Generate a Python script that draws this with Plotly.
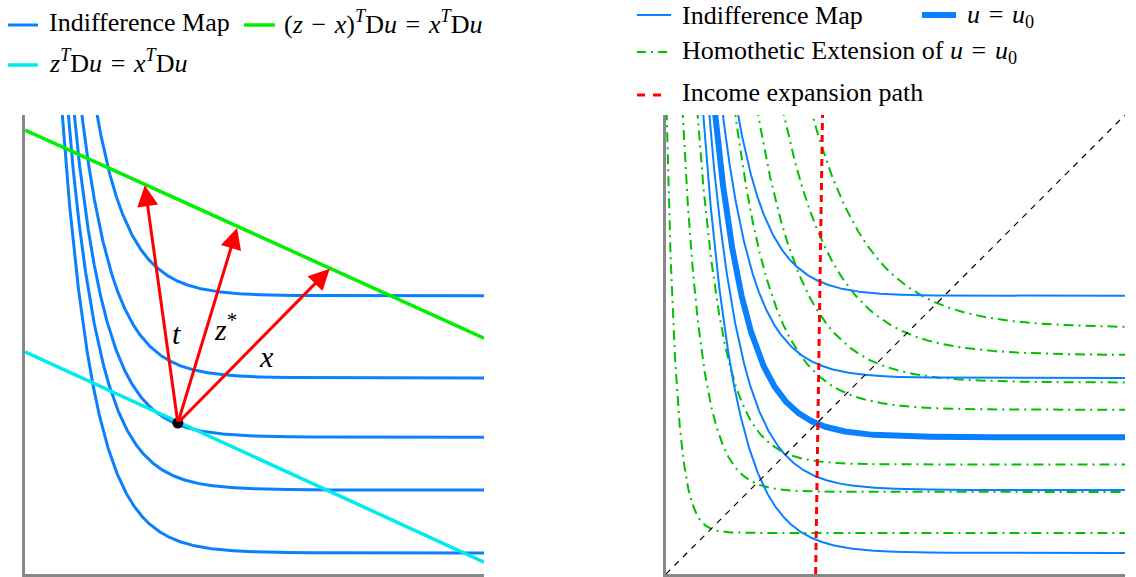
import numpy as np
import plotly.graph_objects as go

# ---------------- data ----------------
# indifference curves: y = level + (10 - level) * exp(-(x - top_x) / decay)
indiff_levels = [6.06, 4.27, 2.98, 1.83, 0.46]     # horizontal asymptotes
indiff_top_x = [1.57, 1.24, 1.07, 0.94, 0.81]      # x where each curve meets y = 10
decay = 0.7
u0_index = 2                                        # the curve u = u0

homothetic_scales = [0.3, 0.6, 0.8, 1.2, 1.4, 1.6, 1.8]

budget_x = [0.0, 10.0]
budget_y = [9.67, 5.14]          # (z - x)^T Du = x^T Du
tangent_x = [0.0, 10.0]
tangent_y = [4.84, 0.26]         # z^T Du = x^T Du

point_xy = (3.33, 3.29)
arrow_names = ["t", "z*", "x"]
arrow_tips_x = [2.61, 4.62, 6.64]
arrow_tips_y = [8.47, 7.54, 6.65]
label_x = [3.31, 4.36, 5.27]
label_y = [5.25, 5.38, 4.73]

expansion_x = [3.26, 3.41]
expansion_y = [0.0, 10.0]
diag_x = [0.0, 10.0]
diag_y = [0.0, 10.0]

BLUE = "#0a80ff"
GREEN_BRIGHT = "#00f000"
GREEN_DD = "#00c000"
CYAN = "#00ecec"
RED = "#ff0000"
FONT = "Liberation Serif"
W, H = 1136, 577
SP = "\u2004"   # math spacing around binary operators


def curve(level, top_x, scale=1.0):
    k = (10 - level) * np.exp(top_x / decay)
    xs = np.linspace(0.0005, 10, 4000)
    ys = scale * (level + k * np.exp(-(xs / scale) / decay))
    m = ys < 14
    return xs[m], ys[m]


fig = go.Figure()

# ---------------- left panel ----------------
for lev, tx in zip(indiff_levels, indiff_top_x):
    cx, cy = curve(lev, tx)
    fig.add_trace(go.Scatter(x=cx, y=cy, mode="lines", line=dict(color=BLUE, width=3),
                             showlegend=False, xaxis="x", yaxis="y", hoverinfo="skip"))
fig.add_trace(go.Scatter(x=budget_x, y=budget_y, mode="lines", line=dict(color=GREEN_BRIGHT, width=3.5),
                         showlegend=False, xaxis="x", yaxis="y"))
fig.add_trace(go.Scatter(x=tangent_x, y=tangent_y, mode="lines", line=dict(color=CYAN, width=3.5),
                         showlegend=False, xaxis="x", yaxis="y"))

annotations = []
for tx_, ty_ in zip(arrow_tips_x, arrow_tips_y):
    annotations.append(dict(x=tx_, y=ty_, ax=point_xy[0], ay=point_xy[1], xref="x", yref="y",
                            axref="x", ayref="y", text="", showarrow=True, arrowhead=2,
                            arrowsize=1.4, arrowwidth=3, arrowcolor=RED, standoff=0, startstandoff=0))
fig.add_trace(go.Scatter(x=[point_xy[0]], y=[point_xy[1]], mode="markers",
                         marker=dict(color="black", size=11), showlegend=False, xaxis="x", yaxis="y",
                         cliponaxis=False))
label_text = {"t": "<i>t</i>", "z*": "<i>z</i><sup>*</sup>", "x": "<i>x</i>"}
for nm, lx, ly in zip(arrow_names, label_x, label_y):
    annotations.append(dict(x=lx, y=ly, xref="x", yref="y", text=label_text[nm], showarrow=False,
                            font=dict(family=FONT, size=30, color="black")))

# ---------------- right panel ----------------
for s in homothetic_scales:
    cx, cy = curve(indiff_levels[u0_index], indiff_top_x[u0_index], s)
    fig.add_trace(go.Scatter(x=cx, y=cy, mode="lines",
                             line=dict(color=GREEN_DD, width=2, dash="10px,5px,2px,5px"),
                             showlegend=False, xaxis="x2", yaxis="y2", hoverinfo="skip"))
for i, (lev, tx) in enumerate(zip(indiff_levels, indiff_top_x)):
    cx, cy = curve(lev, tx)
    fig.add_trace(go.Scatter(x=cx, y=cy, mode="lines",
                             line=dict(color=BLUE, width=6 if i == u0_index else 2),
                             showlegend=False, xaxis="x2", yaxis="y2", hoverinfo="skip"))
fig.add_trace(go.Scatter(x=expansion_x, y=expansion_y, mode="lines",
                         line=dict(color=RED, width=3, dash="7px,5px"),
                         showlegend=False, xaxis="x2", yaxis="y2"))
fig.add_trace(go.Scatter(x=diag_x, y=diag_y, mode="lines",
                         line=dict(color="black", width=1.2, dash="6px,6px"),
                         showlegend=False, xaxis="x2", yaxis="y2"))

# ---------------- manual legends ----------------
shapes = []


def leg_line(x0, x1, y, color, width, dash="solid"):
    shapes.append(dict(type="line", xref="paper", yref="paper", x0=x0 / W, x1=x1 / W,
                       y0=1 - y / H, y1=1 - y / H, line=dict(color=color, width=width, dash=dash)))


def leg_text(x, y, txt):
    annotations.append(dict(x=x / W, y=1 - y / H, xref="paper", yref="paper", text=txt,
                            showarrow=False, xanchor="left", yanchor="middle",
                            font=dict(family=FONT, size=26, color="black")))


EQ = SP + "=" + SP
MINUS = SP + "−" + SP
leg_line(8, 38, 25, BLUE, 3)
leg_text(47, 22, "Indifference Map")
leg_line(244, 275, 25, GREEN_BRIGHT, 3.5)
leg_text(282, 22, "(<i>z</i>" + MINUS + "<i>x</i>)<sup><i>T</i></sup>D<i>u</i>" + EQ
         + "<i>x</i><sup><i>T</i></sup>D<i>u</i>")
leg_line(8, 38, 65, CYAN, 3.5)
leg_text(47, 62, "<i>z</i><sup><i>T</i></sup>D<i>u</i>" + EQ + "<i>x</i><sup><i>T</i></sup>D<i>u</i>")

leg_line(637, 671, 15, BLUE, 2)
leg_text(680, 15, "Indifference Map")
leg_line(922, 956, 15, BLUE, 6)
leg_text(965, 16, "<i>u</i>" + EQ + "<i>u</i><sub>0</sub>")
leg_line(637, 671, 52, GREEN_DD, 2, "9px,5px,2px,5px")
leg_text(680, 52, "Homothetic Extension of <i>u</i>" + EQ + "<i>u</i><sub>0</sub>")
leg_line(637, 663, 95, RED, 3, "8px,8px")
leg_text(680, 93, "Income expansion path")

ax_common = dict(range=[0, 10], showgrid=False, zeroline=False, showticklabels=False, ticks="",
                 showline=True, linecolor="#888888", linewidth=2.5)
fig.update_layout(
    width=W, height=H, margin=dict(l=0, r=0, t=0, b=0),
    paper_bgcolor="white", plot_bgcolor="white", showlegend=False,
    xaxis=dict(domain=[25 / W, 484 / W], anchor="y", **ax_common),
    yaxis=dict(domain=[3 / H, 462 / H], anchor="x", **ax_common),
    xaxis2=dict(domain=[666 / W, 1125 / W], anchor="y2", **ax_common),
    yaxis2=dict(domain=[3 / H, 462 / H], anchor="x2", **ax_common),
    annotations=annotations, shapes=shapes,
)
fig.write_html("out.html", config={"displayModeBar": False},
               post_script="document.body.style.margin='0px';document.body.style.overflow='hidden';")
